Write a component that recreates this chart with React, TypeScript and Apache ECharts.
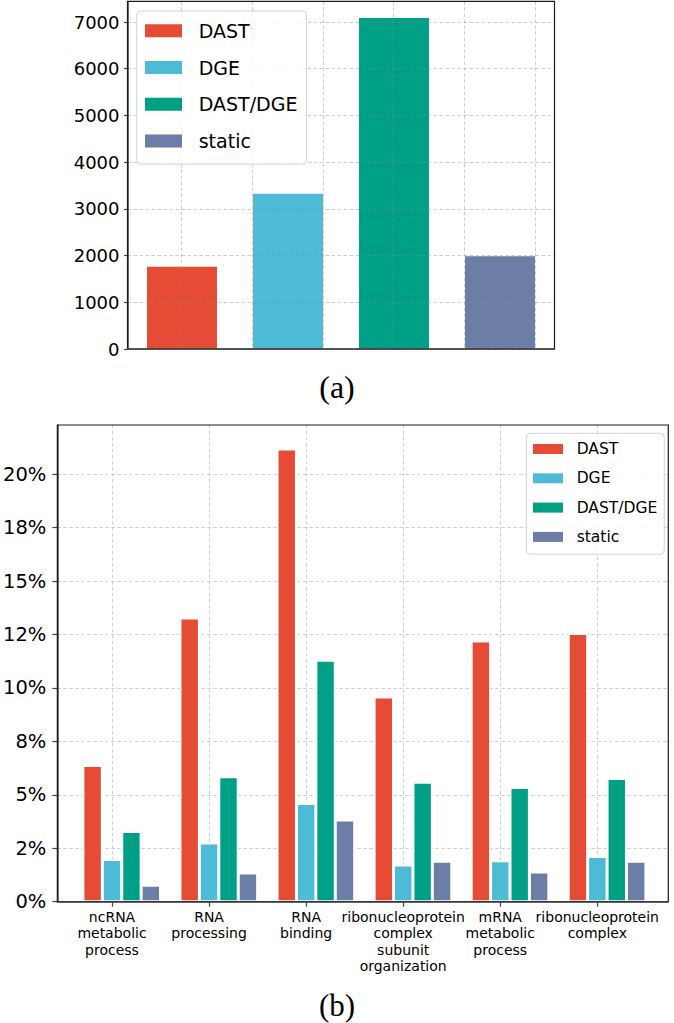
import React, { useEffect, useRef } from 'react';
import * as echarts from 'echarts';

// ---------- data ----------
const seriesNames = ['DAST', 'DGE', 'DAST/DGE', 'static'];
const seriesColors = ['#E64B35', '#4DBBD5', '#00A087', '#6C7EA6'];

// chart (a)
const topValues = [1760, 3325, 7086, 1985];
const topYTicks = [0, 1000, 2000, 3000, 4000, 5000, 6000, 7000];
const topYMax = 7440;

// chart (b)
const bottomCategories = [
  'ncRNA\nmetabolic\nprocess',
  'RNA\nprocessing',
  'RNA\nbinding',
  'ribonucleoprotein\ncomplex\nsubunit\norganization',
  'mRNA\nmetabolic\nprocess',
  'ribonucleoprotein\ncomplex',
];
const dastValues = [6.37, 13.27, 21.18, 9.58, 12.2, 12.55];
const dgeValues = [1.97, 2.75, 4.59, 1.72, 1.92, 2.11];
const dastDgeValues = [3.28, 5.84, 11.3, 5.59, 5.34, 5.76];
const staticValues = [0.77, 1.34, 3.82, 1.89, 1.39, 1.89];
const bottomSeries = [dastValues, dgeValues, dastDgeValues, staticValues];
const bottomYTicks = [0, 2.5, 5, 7.5, 10, 12.5, 15, 17.5, 20];
const bottomYTickLabels = ['0%', '2%', '5%', '8%', '10%', '12%', '15%', '18%', '20%'];
const bottomYMax = 22.3;

const FONT = 'DejaVu Sans';
const gridLine = { show: true, lineStyle: { color: '#c4c4c4', width: 0.8, type: [3.5, 2.5] as any } };
const gridLineOver = { show: true, lineStyle: { color: 'rgba(140,140,140,0.55)', width: 0.8, type: [3.5, 2.5] as any } };

export default function App() {
  const ref = useRef<HTMLDivElement>(null);

  useEffect(() => {
    if (!ref.current) return;
    const chart = echarts.init(ref.current, undefined, { renderer: 'svg' });

    const hidden = { show: false };

    const option: any = {
      animation: false,
      backgroundColor: '#ffffff',
      title: [
        {
          text: '(a)', left: 'center', top: 366,
          textStyle: { fontFamily: 'Liberation Serif', fontSize: 32, fontWeight: 'normal', color: '#000' },
        },
        {
          text: '(b)', left: 'center', top: 985,
          textStyle: { fontFamily: 'Liberation Serif', fontSize: 31, fontWeight: 'normal', color: '#000' },
        },
      ],
      grid: [
        { left: 127.5, right: 119.5, top: 1.45, bottom: 674, show: true, borderColor: '#1a1a1a', borderWidth: 1.2, backgroundColor: 'transparent', z: 6 },
        { left: 181.7, right: 139, top: 1.45, bottom: 674 },
        { left: 129, right: 121, top: 1.45, bottom: 674 },
        { left: 54.3, right: 5.7, top: 425, bottom: 121.3, show: true, borderColor: '#1a1a1a', borderWidth: 1.2, backgroundColor: 'transparent', z: 6 },
        { left: 112, right: 76.7, top: 425, bottom: 121.3 },
        { left: 73.2, right: 18.4, top: 425, bottom: 121.3 },
      ],
      xAxis: [
        {
          gridIndex: 0, type: 'value', min: 0, max: 1, z: 7,
          axisLine: { show: true, lineStyle: { color: '#444', width: 1.5 } },
          axisTick: hidden, axisLabel: hidden, splitLine: hidden,
        },
        {
          gridIndex: 1, type: 'value', min: 0, max: 5, interval: 1, z: 5,
          axisLine: hidden, axisTick: hidden, axisLabel: hidden, splitLine: gridLineOver,
        },
        { gridIndex: 2, type: 'category', data: seriesNames, show: false },
        {
          gridIndex: 3, type: 'value', min: 0, max: 1, z: 7,
          axisLine: { show: true, lineStyle: { color: '#444', width: 1.5 } },
          axisTick: hidden, axisLabel: hidden, splitLine: hidden,
        },
        {
          gridIndex: 4, type: 'category', data: bottomCategories, boundaryGap: false,
          axisLine: hidden,
          axisTick: { show: true, interval: 0, length: 5, lineStyle: { color: '#444', width: 1.2 } },
          axisLabel: {
            show: true, interval: 0, margin: 7, fontFamily: FONT, fontSize: 14, lineHeight: 16.5,
            color: '#000', align: 'center',
          },
          splitLine: { ...gridLine, interval: 0 },
        },
        { gridIndex: 5, type: 'category', data: bottomCategories, show: false },
      ],
      yAxis: [
        {
          gridIndex: 0, type: 'value', min: 0, max: topYMax, interval: 1000, z: 5,
          axisLine: { show: true, lineStyle: { color: '#444', width: 1.5 } },
          axisTick: { show: true, length: 3.5, customValues: topYTicks, lineStyle: { color: '#444', width: 1.2 } },
          axisLabel: {
            show: true, margin: 8, fontFamily: FONT, fontSize: 18, color: '#000',
            customValues: topYTicks,
            formatter: (v: number) => (topYTicks.indexOf(v) >= 0 ? String(v) : ''),
          },
          splitLine: gridLineOver,
        },
        { gridIndex: 1, type: 'value', min: 0, max: topYMax, show: false, splitLine: hidden },
        { gridIndex: 2, type: 'value', min: 0, max: topYMax, show: false, splitLine: hidden },
        {
          gridIndex: 3, type: 'value', min: 0, max: bottomYMax, interval: 2.5,
          axisLine: { show: true, lineStyle: { color: '#444', width: 1.5 } },
          axisTick: { show: true, length: 5, customValues: bottomYTicks, lineStyle: { color: '#444', width: 1.2 } },
          axisLabel: {
            show: true, margin: 11, fontFamily: FONT, fontSize: 19.5, color: '#000',
            customValues: bottomYTicks,
            formatter: (v: number) => {
              const i = bottomYTicks.indexOf(v);
              return i >= 0 ? bottomYTickLabels[i] : '';
            },
          },
          splitLine: gridLine,
        },
        { gridIndex: 4, type: 'value', min: 0, max: bottomYMax, show: false, splitLine: hidden },
        { gridIndex: 5, type: 'value', min: 0, max: bottomYMax, show: false, splitLine: hidden },
      ],
      legend: [
        {
          data: seriesNames, orient: 'vertical', left: 136.7, top: 11, z: 10,
          icon: 'rect', itemWidth: 37, itemHeight: 13, itemGap: 17.8,
          padding: [10.2, 9, 13.5, 8.3],
          backgroundColor: 'rgba(255,255,255,0.85)', borderColor: '#d4d4d4', borderWidth: 1, borderRadius: 4,
          itemStyle: { borderWidth: 0 },
          textStyle: { fontFamily: FONT, fontSize: 19, color: '#000', lineHeight: 13, padding: [0, 0, 0, 11.7] },
          selectedMode: false,
        },
        {
          data: seriesNames, orient: 'vertical', left: 526.3, top: 433.3, z: 10,
          icon: 'rect', itemWidth: 30, itemHeight: 10, itemGap: 13.3,
          padding: [7.7, 7, 9.3, 6.7],
          backgroundColor: 'rgba(255,255,255,0.85)', borderColor: '#d4d4d4', borderWidth: 1, borderRadius: 4,
          itemStyle: { borderWidth: 0 },
          textStyle: { fontFamily: FONT, fontSize: 15.5, color: '#000', lineHeight: 10, padding: [0, 0, 0, 8.7] },
          selectedMode: false,
        },
      ],
      series: [
        ...seriesNames.map((name, i) => ({
          name, type: 'bar', xAxisIndex: 2, yAxisIndex: 2, stack: 'top',
          barWidth: '66%',
          itemStyle: { color: seriesColors[i] },
          data: seriesNames.map((_, j) => (j === i ? topValues[i] : '-')),
        })),
        ...seriesNames.map((name, i) => ({
          name, type: 'bar', xAxisIndex: 5, yAxisIndex: 5,
          barWidth: '20%', barGap: '0%',
          itemStyle: { color: seriesColors[i], borderColor: '#ffffff', borderWidth: 1.5 },
          data: bottomSeries[i],
        })),
      ],
    };

    chart.setOption(option);
    return () => chart.dispose();
  }, []);

  return (
    <div
      ref={ref}
      style={{ position: 'absolute', left: 0, top: 0, width: 674, height: 1023, background: '#fff' }}
    />
  );
}
